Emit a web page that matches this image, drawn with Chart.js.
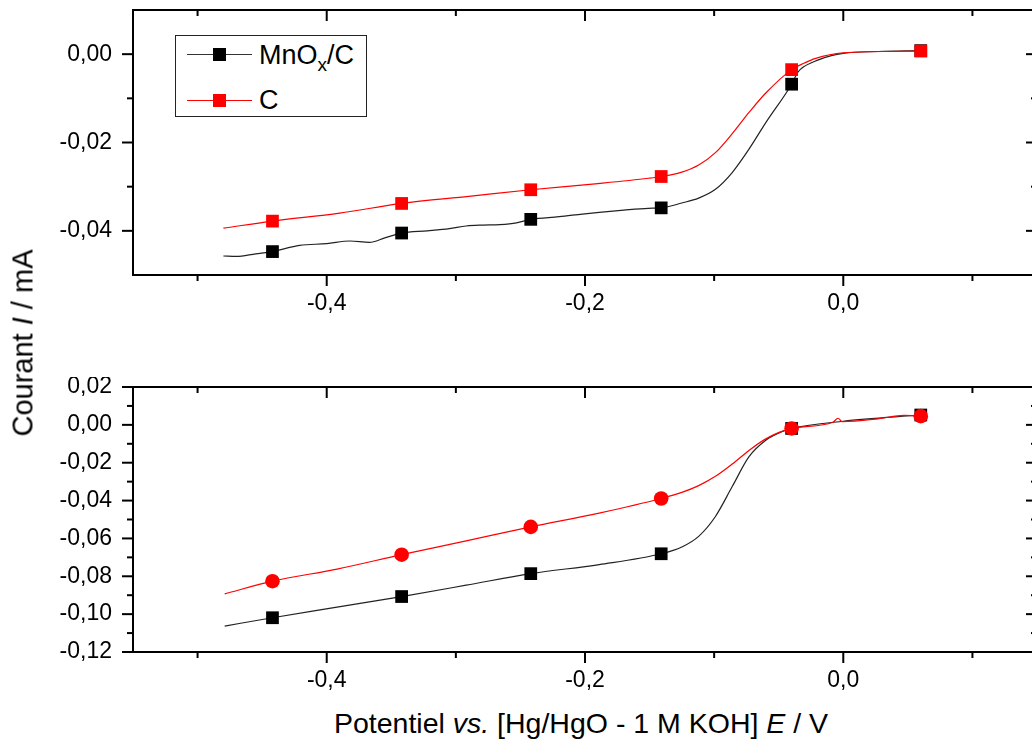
<!DOCTYPE html>
<html lang="fr">
<head>
<meta charset="utf-8">
<title>Courant I / mA vs potentiel</title>
<script src="https://cdn.jsdelivr.net/npm/chart.js@4.4.1/dist/chart.umd.min.js"></script>
<style>
  html, body { margin: 0; padding: 0; overflow: hidden; background: #fff; }
  body { width: 1032px; height: 744px; position: relative; font-family: 'Liberation Sans', Arial, sans-serif; color: #000; }
  .panel { position: absolute; left: 0; }
  #topPanel { top: 0; }
  #bottomPanel { top: 377px; }
  .legend { position: absolute; left: 175px; top: 35px; width: 190px; height: 80px; border: 1.5px solid #222; background: #fff; }
  .legend .sample { position: absolute; left: 11px; width: 65px; height: 1.3px; }
  .legend .sample span { position: absolute; left: 26px; top: -6px; width: 13px; height: 13px; }
  .legend .label { position: absolute; left: 83px; font-size: 27px; line-height: 27px; white-space: nowrap; }
  .legend sub { font-size: 19px; position: relative; top: 1px; vertical-align: sub; line-height: 0; }
  .ytitle { position: absolute; left: 23px; top: 343px; transform: translate(-50%, -50%) rotate(-90deg); font-size: 29px; line-height: 29px; white-space: nowrap; }
  .xtitle { position: absolute; left: 0; width: 1162px; top: 709px; text-align: center; font-size: 28.5px; line-height: 28px; white-space: nowrap; }
</style>
</head>
<body>
<canvas id="topPanel" class="panel" width="1046" height="320"></canvas>
<canvas id="bottomPanel" class="panel" width="1046" height="320"></canvas>

<div class="legend">
  <div class="sample" style="top: 18px; background: #333;"><span style="background: #000;"></span></div>
  <div class="label" style="top: 6px;">MnO<sub>x</sub>/C</div>
  <div class="sample" style="top: 64px; background: #f00;"><span style="background: #f00;"></span></div>
  <div class="label" style="top: 51px;">C</div>
</div>
<div class="ytitle">Courant <i>I</i> / mA</div>
<div class="xtitle">Potentiel <i>vs.</i> [Hg/HgO - 1 M KOH] <i>E</i> / V</div>

<script>
// Potentials (V) where the symbols sit on each curve
const markerE = [-0.442, -0.342, -0.242, -0.141, -0.040, 0.060];

// Upper panel, MnOx/C (black)
const topMnoxE = [-0.480, -0.470, -0.455, -0.442, -0.421, -0.400, -0.382, -0.367, -0.355, -0.342,
  -0.322, -0.305, -0.292, -0.279, -0.266, -0.253, -0.242, -0.220, -0.202, -0.189, -0.170, -0.151,
  -0.141, -0.125, -0.112, -0.099, -0.086, -0.073, -0.060, -0.040, -0.035, -0.022, -0.010, 0.000, 0.027, 0.060];
const topMnoxI = [-0.0457, -0.0458, -0.0452, -0.0447, -0.0433, -0.0429, -0.0423, -0.0426, -0.0416, -0.0405,
  -0.0400, -0.0395, -0.0389, -0.0387, -0.0386, -0.0382, -0.0374, -0.0368, -0.0362, -0.0358, -0.0353, -0.0349,
  -0.0348, -0.0337, -0.0326, -0.0306, -0.0268, -0.0215, -0.0155, -0.0068, -0.0040, -0.0016, -0.0004, 0.0002, 0.0006, 0.0008];
const topMnoxMarkerI = [-0.0447, -0.0405, -0.0374, -0.0348, -0.0068, 0.0008];

// Upper panel, C (red)
const topCE = [-0.480, -0.442, -0.390, -0.342, -0.290, -0.242, -0.190, -0.151, -0.141, -0.125, -0.112,
  -0.099, -0.086, -0.073, -0.060, -0.040, -0.030, -0.022, 0.000, 0.060];
const topCI = [-0.0394, -0.0378, -0.0360, -0.0338, -0.0322, -0.0307, -0.0293, -0.0281, -0.0277, -0.0267, -0.0251,
  -0.0223, -0.0180, -0.0132, -0.0088, -0.0035, -0.0020, -0.0010, 0.0003, 0.0007];
const topCMarkerI = [-0.0378, -0.0338, -0.0307, -0.0277, -0.0035, 0.0007];

// Lower panel, MnOx/C (black)
const bottomMnoxE = [-0.479, -0.442, -0.392, -0.342, -0.292, -0.242, -0.189, -0.141, -0.125, -0.112, -0.099,
  -0.086, -0.073, -0.060, -0.048, -0.040, 0.000, 0.060];
const bottomMnoxI = [-0.1063, -0.1019, -0.0963, -0.0907, -0.0847, -0.0786, -0.0738, -0.0681, -0.0645, -0.0589, -0.0484,
  -0.0326, -0.0168, -0.0081, -0.0037, -0.0019, 0.0019, 0.0052];
const bottomMnoxMarkerI = [-0.1019, -0.0907, -0.0786, -0.0681, -0.0019, 0.0052];

// Lower panel, C (red)
const bottomCE = [-0.479, -0.442, -0.392, -0.342, -0.292, -0.242, -0.189, -0.141, -0.125, -0.112, -0.099, -0.086,
  -0.073, -0.060, -0.040, -0.008, -0.004, -0.001, 0.027, 0.047, 0.060];
const bottomCI = [-0.0893, -0.0826, -0.0762, -0.0686, -0.0613, -0.0539, -0.0466, -0.0389, -0.0357, -0.0321, -0.0272, -0.0207,
  -0.0135, -0.0074, -0.0019, 0.0014, 0.0035, 0.0017, 0.0032, 0.0050, 0.0046];
const bottomCMarkerI = [-0.0826, -0.0686, -0.0539, -0.0389, -0.0019, 0.0046];

// Axes: ranges and tick values
const xRange = [-0.55, 0.15];
const xMajorTicks = [-0.4, -0.2, 0.0];
const xMinorTicks = [-0.5, -0.3, -0.1, 0.1];
const topYRange = [-0.05, 0.01];
const topYMajorTicks = [-0.04, -0.02, 0.00];
const topYMinorTicks = [-0.03, -0.01];
const bottomYRange = [-0.12, 0.02];
const bottomYMajorTicks = [-0.12, -0.10, -0.08, -0.06, -0.04, -0.02, 0.00, 0.02];
const bottomYMinorTicks = [-0.11, -0.09, -0.07, -0.05, -0.03, -0.01, 0.01];

const toPoints = (xs, ys) => xs.map((x, i) => ({ x: x, y: ys[i] }));
const frenchNumber = (v, digits) => (Math.abs(v) < 1e-9 ? 0 : v).toFixed(digits).replace('.', ',');

// Origin-style frame: ticks out on bottom/left, in on top/right
const frameTicks = {
  id: 'frameTicks',
  afterDatasetsDraw(chart, args, opts) {
    const { ctx, chartArea: area } = chart;
    const xs = chart.scales.x, ys = chart.scales.y;
    ctx.save();
    ctx.strokeStyle = '#000';
    ctx.lineWidth = 2;
    ctx.strokeRect(area.left, area.top, area.right - area.left, area.bottom - area.top);
    const tick = (px, py, dx, dy) => {
      ctx.beginPath();
      ctx.moveTo(px, py);
      ctx.lineTo(px + dx, py + dy);
      ctx.stroke();
    };
    [[xMajorTicks, 11], [xMinorTicks, 6]].forEach(([vals, len]) => vals.forEach(v => {
      const px = xs.getPixelForValue(v);
      tick(px, area.bottom, 0, len);
      tick(px, area.top, 0, len);
    }));
    [[opts.yMajor, 11], [opts.yMinor, 6]].forEach(([vals, len]) => vals.forEach(v => {
      const py = ys.getPixelForValue(v);
      tick(area.left, py, -len, 0);
      tick(area.right, py, -len, 0);
    }));
    ctx.restore();
  }
};

function makePanel(canvasId, series, yRange, yMajor, yMinor) {
  const datasets = [];
  series.forEach(s => {
    datasets.push({
      data: toPoints(markerE, s.markers),
      showLine: false,
      pointStyle: s.pointStyle,
      pointRadius: s.pointStyle === 'rect' ? 9 : 7.3,
      pointBackgroundColor: s.color,
      pointBorderWidth: 0,
      order: s.order
    });
    datasets.push({
      data: toPoints(s.e, s.i),
      borderColor: s.lineColor,
      borderWidth: 1.2,
      pointRadius: 0,
      cubicInterpolationMode: 'monotone',
      order: s.order + 1
    });
  });

  return new Chart(document.getElementById(canvasId), {
    type: 'line',
    data: { datasets: datasets },
    options: {
      responsive: false,
      animation: false,
      devicePixelRatio: 1,
      events: [],
      layout: { padding: { left: 0, top: 10, right: 7, bottom: 0 } },
      scales: {
        x: {
          type: 'linear',
          min: xRange[0],
          max: xRange[1],
          afterBuildTicks: scale => { scale.ticks = xMajorTicks.map(v => ({ value: v })); },
          afterFit: scale => { scale.height = 45; scale.paddingLeft = 0; scale.paddingRight = 0; },
          grid: { display: false, drawTicks: true, tickLength: 10 },
          border: { display: false },
          ticks: {
            padding: 5,
            maxRotation: 0,
            color: '#000',
            font: { family: "'Liberation Sans', Arial, sans-serif", size: 23 },
            callback: v => frenchNumber(v, 1)
          }
        },
        y: {
          type: 'linear',
          min: yRange[0],
          max: yRange[1],
          afterBuildTicks: scale => { scale.ticks = yMajor.map(v => ({ value: v })); },
          afterFit: scale => { scale.width = 133; scale.paddingTop = 0; scale.paddingBottom = 0; },
          grid: { display: false, drawTicks: true, tickLength: 10 },
          border: { display: false },
          ticks: {
            padding: 11,
            color: '#000',
            font: { family: "'Liberation Sans', Arial, sans-serif", size: 23 },
            callback: v => frenchNumber(v, 2)
          }
        }
      },
      plugins: {
        legend: { display: false },
        tooltip: { enabled: false },
        frameTicks: { yMajor: yMajor, yMinor: yMinor }
      }
    },
    plugins: [frameTicks]
  });
}

makePanel('topPanel', [
  { e: topCE, i: topCI, markers: topCMarkerI, color: '#ff0000', lineColor: '#ff0000', pointStyle: 'rect', order: 0 },
  { e: topMnoxE, i: topMnoxI, markers: topMnoxMarkerI, color: '#000000', lineColor: '#222222', pointStyle: 'rect', order: 2 }
], topYRange, topYMajorTicks, topYMinorTicks);

makePanel('bottomPanel', [
  { e: bottomCE, i: bottomCI, markers: bottomCMarkerI, color: '#ff0000', lineColor: '#ff0000', pointStyle: 'circle', order: 0 },
  { e: bottomMnoxE, i: bottomMnoxI, markers: bottomMnoxMarkerI, color: '#000000', lineColor: '#222222', pointStyle: 'rect', order: 2 }
], bottomYRange, bottomYMajorTicks, bottomYMinorTicks);
</script>
</body>
</html>
